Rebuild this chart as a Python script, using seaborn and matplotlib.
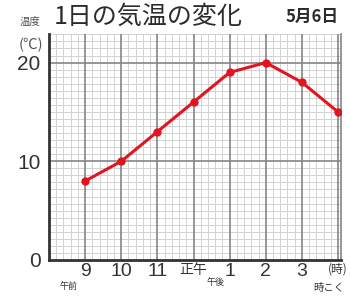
import numpy as np
import pandas as pd
import matplotlib
matplotlib.use("Agg")
import matplotlib.pyplot as plt
import seaborn as sns

hours = [9, 10, 11, 12, 13, 14, 15, 16]
temps = [8, 10, 13, 16, 19, 20, 18, 15]
hour_labels = ["9", "10", "11", "正午", "1", "2", "3", "(時)"]
y_labels = ["0", "10", "20"]

sns.set_style("white")
plt.rcParams["font.family"] = ["Noto Sans CJK JP", "DejaVu Sans"]
num_font = ["Liberation Sans", "DejaVu Sans"]

df = pd.DataFrame({"hour": hours, "temp": temps})

fig = plt.figure(figsize=(3.5, 2.97), dpi=100)
ax = fig.add_axes([0.14, 0.1246, 0.834, 0.761])

# graph-paper grid: light minor lines, darker lines on hours and every 10 degrees
xminor = [v for v in np.arange(8, 16.1, 0.2) if abs(v - round(v)) > 0.01]
yminor = [i * 10 / 14 for i in range(33) if i % 14 != 0]
ax.set_xticks(xminor, minor=True)
ax.set_yticks(yminor, minor=True)
ax.grid(which="minor", color="#d2d2d2", lw=0.7)
ax.grid(which="major", visible=False)
ax.set_axisbelow(True)
for h in hours:
    ax.axvline(h, color="#858585", lw=1.2, zorder=1)
for v in [10, 20]:
    ax.axhline(v, color="#858585", lw=1.2, zorder=1)

sns.lineplot(data=df, x="hour", y="temp", color="#e3141f", lw=2.2,
             marker="o", markersize=6, markeredgewidth=0, ax=ax, zorder=5)

ax.set_xlim(8, 16.08)
ax.set_ylim(0, 22.9)
ax.set_xlabel("")
ax.set_ylabel("")

ax.spines["top"].set_visible(False)
ax.spines["right"].set_color("#858585")
ax.spines["right"].set_linewidth(1.2)
for s in ["left", "bottom"]:
    ax.spines[s].set_color("#333333")
    ax.spines[s].set_linewidth(2)

ax.tick_params(which="both", length=0)
ax.set_yticks([0, 10, 20])
ax.set_yticklabels(y_labels, fontsize=15, color="#333333", family=num_font)
ax.tick_params(axis="y", pad=6)
ax.set_xticks(hours)
ax.set_xticklabels(hour_labels, color="#333333")
for t, lab in zip(ax.get_xticklabels(), hour_labels):
    if lab.isdigit():
        t.set_fontsize(14)
        t.set_family(num_font)
    elif lab == "(時)":
        t.set_fontsize(8.5)
    else:
        t.set_fontsize(10)
ax.tick_params(axis="x", pad=2)

fig.text(0.422, 0.943, "1日の気温の変化", fontsize=18, color="#2b2b2b",
         ha="center", va="center")
fig.text(0.892, 0.943, "5月6日", fontsize=12, color="#2b2b2b",
         ha="center", va="center", fontweight="bold")
fig.text(0.087, 0.925, "温度", fontsize=7.5, color="#555555", ha="center", va="center")
fig.text(0.087, 0.85, "(℃)", fontsize=10.5, color="#555555", ha="center", va="center")
fig.text(0.197, 0.033, "午前", fontsize=6.5, color="#333333", ha="center", va="center")
fig.text(0.617, 0.05, "午後", fontsize=6.5, color="#333333", ha="center", va="center")
fig.text(0.94, 0.03, "時こく", fontsize=7.5, color="#333333", ha="center", va="center")

fig.savefig("out.png", dpi=100)
